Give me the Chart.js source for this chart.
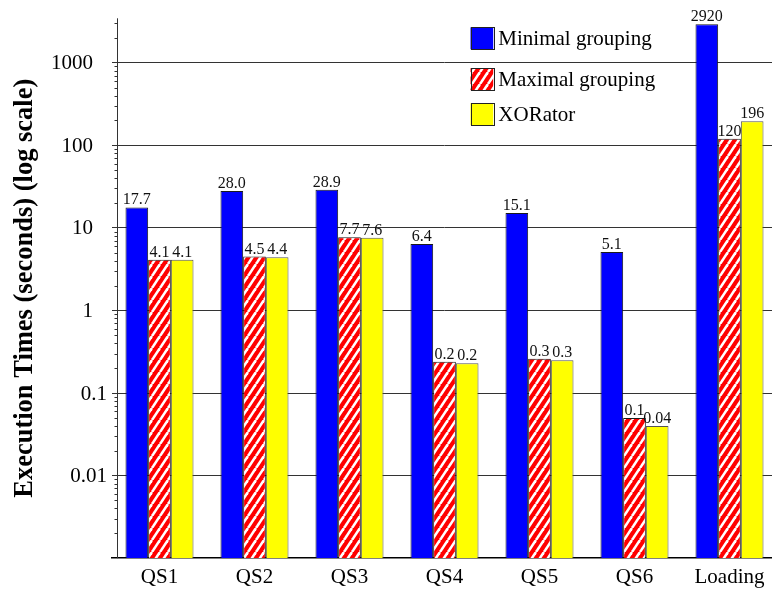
<!DOCTYPE html>
<html>
<head>
<meta charset="utf-8">
<script src="https://cdn.jsdelivr.net/npm/chart.js@4/dist/chart.umd.min.js"></script>
<style>
  html, body { margin: 0; padding: 0; background: #fff; width: 772px; height: 594px; overflow: hidden; }
  canvas { display: block; }
</style>
</head>
<body>
<canvas id="chart" width="777" height="594"></canvas>
<script>
// Query execution times per query set (seconds, log scale)
const categories = ['QS1', 'QS2', 'QS3', 'QS4', 'QS5', 'QS6', 'Loading'];
const seriesNames = ['Minimal grouping', 'Maximal grouping', 'XORator'];
const minimalGrouping = [17.7, 28.0, 28.9, 6.4, 15.1, 5.1, 2920];
const maximalGrouping = [4.1, 4.5, 7.7, 0.24, 0.26, 0.05, 120];
const xorator = [4.1, 4.4, 7.6, 0.23, 0.25, 0.04, 196];
const yTicks = [0.01, 0.1, 1, 10, 100, 1000];
const yTickLabels = ['0.01', '0.1', '1', '10', '100', '1000'];
const yMin = 0.001;
const yMax = 3450;

const SERIF = '"Liberation Serif", "Times New Roman", Times, serif';

// Value label text: whole numbers for large values, two decimals for tiny ones
function formatValue(v) {
  if (v >= 100) return v.toFixed(0);
  if (v >= 0.05) return v.toFixed(1);
  return v.toFixed(2);
}

const canvas = document.getElementById('chart');
const ctx = canvas.getContext('2d');

// Red fill with white diagonal stripes
function makeHatch() {
  const w = 8, h = 12;
  const tile = document.createElement('canvas');
  tile.width = w; tile.height = h;
  const g = tile.getContext('2d');
  g.fillStyle = '#ff0000';
  g.fillRect(0, 0, w, h);
  g.strokeStyle = '#ffffff';
  g.lineWidth = 2.6;
  for (let k = -1; k <= 1; k++) {
    g.beginPath();
    g.moveTo(k * w, h);
    g.lineTo(k * w + w, 0);
    g.stroke();
  }
  return ctx.createPattern(tile, 'repeat');
}
const hatch = makeHatch();

// Vertical axis line with minor tick marks, plus the decade labels
// (fractional labels sit closer to the axis than the whole numbers)
const axisLine = {
  id: 'axisLine',
  beforeDatasetsDraw(chart) {
    const { ctx, chartArea } = chart;
    const ys = chart.scales.y;
    const ax = chartArea.left + 5.5;
    ctx.save();
    ctx.strokeStyle = '#333';
    ctx.lineWidth = 1;
    ctx.beginPath();
    ctx.moveTo(ax, chartArea.top);
    ctx.lineTo(ax, chartArea.bottom);
    ctx.stroke();
    for (let e = -3; e <= 3; e++) {
      for (let k = 2; k <= 9; k++) {
        const v = k * Math.pow(10, e);
        if (v > yMax) continue;
        const py = Math.round(ys.getPixelForValue(v)) + 0.5;
        ctx.beginPath();
        ctx.moveTo(ax - 3, py);
        ctx.lineTo(ax, py);
        ctx.stroke();
      }
    }
    ctx.font = '21px ' + SERIF;
    ctx.fillStyle = '#000';
    ctx.textAlign = 'right';
    ctx.textBaseline = 'middle';
    yTicks.forEach((v, i) => {
      const gap = v < 1 ? 5 : 19;
      ctx.fillText(yTickLabels[i], chartArea.left - gap, ys.getPixelForValue(v) + 1);
    });
    ctx.restore();
  }
};

// Numbers printed above each bar
const valueLabels = {
  id: 'valueLabels',
  afterDatasetsDraw(chart) {
    const { ctx } = chart;
    ctx.save();
    ctx.font = '16px ' + SERIF;
    ctx.fillStyle = '#111';
    ctx.textAlign = 'center';
    ctx.textBaseline = 'alphabetic';
    chart.data.datasets.forEach((ds, i) => {
      chart.getDatasetMeta(i).data.forEach((bar, j) => {
        ctx.fillText(formatValue(ds.data[j]), bar.x, bar.y - 3);
      });
    });
    ctx.restore();
  }
};

// Legend drawn inside the plot, top right
const boxLegend = {
  id: 'boxLegend',
  afterDraw(chart) {
    const { ctx } = chart;
    const centers = [38.3, 79.2, 114.2];
    const bx = 470.5, bw = 22.7, bh = 22;
    ctx.save();
    ctx.font = '21px ' + SERIF;
    ctx.textBaseline = 'middle';
    ctx.textAlign = 'left';
    chart.data.datasets.forEach((ds, i) => {
      const cy = centers[i];
      ctx.fillStyle = ds.backgroundColor;
      ctx.fillRect(bx, cy - bh / 2, bw, bh);
      ctx.strokeStyle = '#222';
      ctx.lineWidth = 1;
      ctx.strokeRect(Math.round(bx) + 0.5, Math.round(cy - bh / 2) + 0.5, Math.round(bw), Math.round(bh));
      ctx.fillStyle = '#000';
      ctx.fillText(ds.label, 498.3, cy + 1);
    });
    ctx.restore();
  }
};

function noPadding(s) {
  s.paddingTop = 0; s.paddingBottom = 0; s.paddingLeft = 0; s.paddingRight = 0;
}

new Chart(ctx, {
  type: 'bar',
  data: {
    labels: categories,
    datasets: [
      { label: seriesNames[0], data: minimalGrouping, backgroundColor: '#0000ff', borderColor: '#1a1a1a', borderWidth: 1 },
      { label: seriesNames[1], data: maximalGrouping, backgroundColor: hatch, borderColor: '#1a1a1a', borderWidth: 1 },
      { label: seriesNames[2], data: xorator, backgroundColor: '#ffff00', borderColor: '#555', borderWidth: 1 }
    ]
  },
  options: {
    responsive: false,
    animation: false,
    devicePixelRatio: 1,
    layout: { padding: { top: 18.3, left: 0, right: 0, bottom: 0 } },
    datasets: { bar: { categoryPercentage: 0.716, barPercentage: 1 } },
    plugins: { legend: { display: false }, tooltip: { enabled: false } },
    scales: {
      x: {
        grid: { display: false, drawTicks: false },
        border: { display: true, color: '#000', width: 1.5 },
        ticks: { padding: 7, color: '#000', font: { family: SERIF, size: 21 } },
        afterFit(s) { s.height = 35.8; noPadding(s); }
      },
      y: {
        type: 'logarithmic',
        position: 'left',
        min: yMin,
        max: yMax,
        afterBuildTicks(s) { s.ticks = yTicks.map(v => ({ value: v })); },
        ticks: { display: false },
        grid: { color: '#333', lineWidth: 1, drawTicks: false },
        border: { display: false },
        title: {
          display: true,
          text: 'Execution Times (seconds) (log scale)',
          color: '#000',
          font: { family: SERIF, size: 26.5, weight: 'bold', lineHeight: 1 },
          padding: { top: 11.5, bottom: 0 }
        },
        afterFit(s) { s.width = 112; noPadding(s); }
      }
    }
  },
  plugins: [axisLine, valueLabels, boxLegend]
});
</script>
</body>
</html>
